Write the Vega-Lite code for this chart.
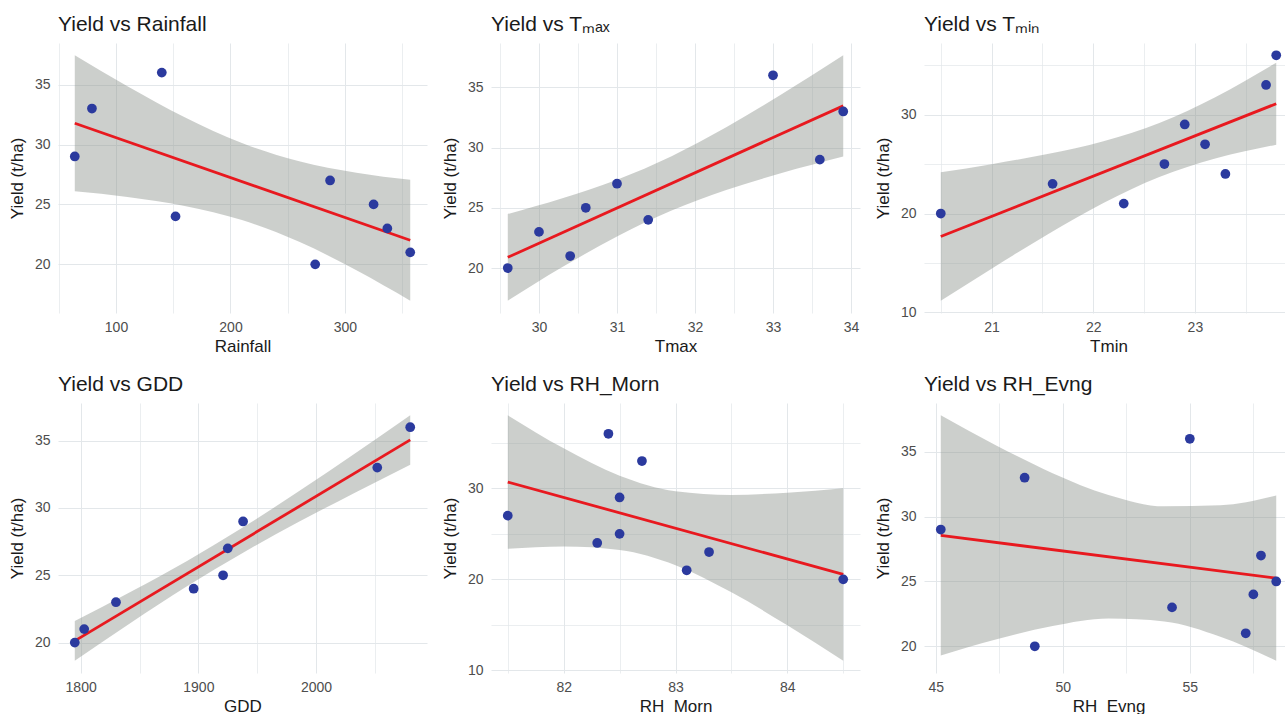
{
  "$schema": "https://vega.github.io/schema/vega-lite/v6.json",
  "padding": {"left": 8, "top": 14, "right": 0, "bottom": 0},
  "background": "white",
  "datasets": {
    "obs": [
      {"Yield": 20, "Rainfall": 274, "Tmax": 29.6, "Tmin": 20.5, "GDD": 1795, "RH_Morn": 84.5, "RH_Evng": 48.9},
      {"Yield": 21, "Rainfall": 357, "Tmax": 30.4, "Tmin": 22.3, "GDD": 1803, "RH_Morn": 83.1, "RH_Evng": 57.2},
      {"Yield": 23, "Rainfall": 337, "Tmax": 30.0, "Tmin": 21.6, "GDD": 1830, "RH_Morn": 83.3, "RH_Evng": 54.3},
      {"Yield": 24, "Rainfall": 152, "Tmax": 31.4, "Tmin": 23.3, "GDD": 1896, "RH_Morn": 82.3, "RH_Evng": 57.5},
      {"Yield": 25, "Rainfall": 325, "Tmax": 30.6, "Tmin": 22.7, "GDD": 1921, "RH_Morn": 82.5, "RH_Evng": 58.4},
      {"Yield": 27, "Rainfall": 287, "Tmax": 31.0, "Tmin": 23.1, "GDD": 1925, "RH_Morn": 81.5, "RH_Evng": 57.8},
      {"Yield": 29, "Rainfall": 64, "Tmax": 33.6, "Tmin": 22.9, "GDD": 1938, "RH_Morn": 82.5, "RH_Evng": 45.2},
      {"Yield": 33, "Rainfall": 79, "Tmax": 33.9, "Tmin": 23.7, "GDD": 2052, "RH_Morn": 82.7, "RH_Evng": 48.5},
      {"Yield": 36, "Rainfall": 140, "Tmax": 33.0, "Tmin": 23.8, "GDD": 2080, "RH_Morn": 82.4, "RH_Evng": 55.0}
    ],
    "band": [
      {"panel": "Rainfall", "x": 64, "lo": 26.09, "hi": 37.45},
      {"panel": "Rainfall", "x": 110, "lo": 25.62, "hi": 34.86},
      {"panel": "Rainfall", "x": 160, "lo": 24.87, "hi": 32.27},
      {"panel": "Rainfall", "x": 210, "lo": 23.69, "hi": 30.12},
      {"panel": "Rainfall", "x": 260, "lo": 21.88, "hi": 28.60},
      {"panel": "Rainfall", "x": 310, "lo": 19.50, "hi": 27.64},
      {"panel": "Rainfall", "x": 357, "lo": 16.96, "hi": 27.05},
      {"panel": "Tmax", "x": 29.6, "lo": 17.29, "hi": 24.49},
      {"panel": "Tmax", "x": 30.3, "lo": 20.08, "hi": 25.80},
      {"panel": "Tmax", "x": 31.0, "lo": 22.62, "hi": 27.34},
      {"panel": "Tmax", "x": 31.7, "lo": 24.77, "hi": 29.29},
      {"panel": "Tmax", "x": 32.4, "lo": 26.47, "hi": 31.68},
      {"panel": "Tmax", "x": 33.1, "lo": 27.86, "hi": 34.38},
      {"panel": "Tmax", "x": 33.9, "lo": 29.25, "hi": 37.66},
      {"panel": "Tmin", "x": 20.5, "lo": 11.18, "hi": 24.16},
      {"panel": "Tmin", "x": 21.0, "lo": 14.42, "hi": 24.99},
      {"panel": "Tmin", "x": 21.55, "lo": 17.87, "hi": 26.01},
      {"panel": "Tmin", "x": 22.1, "lo": 21.06, "hi": 27.30},
      {"panel": "Tmin", "x": 22.65, "lo": 23.69, "hi": 29.15},
      {"panel": "Tmin", "x": 23.2, "lo": 25.55, "hi": 31.76},
      {"panel": "Tmin", "x": 23.8, "lo": 26.95, "hi": 35.25},
      {"panel": "GDD", "x": 1795, "lo": 18.65, "hi": 21.61},
      {"panel": "GDD", "x": 1843, "lo": 21.49, "hi": 23.80},
      {"panel": "GDD", "x": 1890, "lo": 24.16, "hi": 26.05},
      {"panel": "GDD", "x": 1938, "lo": 26.68, "hi": 28.56},
      {"panel": "GDD", "x": 1985, "lo": 28.95, "hi": 31.22},
      {"panel": "GDD", "x": 2033, "lo": 31.14, "hi": 34.05},
      {"panel": "GDD", "x": 2080, "lo": 33.22, "hi": 36.89},
      {"panel": "RH_Morn", "x": 81.5, "lo": 23.36, "hi": 38.03},
      {"panel": "RH_Morn", "x": 82.0, "lo": 23.61, "hi": 34.40},
      {"panel": "RH_Morn", "x": 82.5, "lo": 23.23, "hi": 31.39},
      {"panel": "RH_Morn", "x": 83.0, "lo": 21.56, "hi": 29.68},
      {"panel": "RH_Morn", "x": 83.5, "lo": 18.57, "hi": 29.28},
      {"panel": "RH_Morn", "x": 84.0, "lo": 14.95, "hi": 29.52},
      {"panel": "RH_Morn", "x": 84.5, "lo": 11.06, "hi": 30.02},
      {"panel": "RH_Evng", "x": 45.2, "lo": 19.29, "hi": 37.81},
      {"panel": "RH_Evng", "x": 47.4, "lo": 20.54, "hi": 35.47},
      {"panel": "RH_Evng", "x": 49.6, "lo": 21.56, "hi": 33.35},
      {"panel": "RH_Evng", "x": 51.8, "lo": 22.14, "hi": 31.67},
      {"panel": "RH_Evng", "x": 54.0, "lo": 21.92, "hi": 30.79},
      {"panel": "RH_Evng", "x": 56.2, "lo": 20.74, "hi": 30.87},
      {"panel": "RH_Evng", "x": 58.4, "lo": 18.89, "hi": 31.62}
    ]
  },
  "vconcat": [
    {
      "hconcat": [
        {
          "title": "Yield vs Rainfall",
          "width": 369, "height": 270,
          "layer": [
            {"data": {"name": "band"}, "transform": [{"filter": "datum.panel === 'Rainfall'"}],
             "mark": {"type": "area", "color": "#8f948f", "opacity": 0.45, "interpolate": "monotone"},
             "encoding": {
               "x": {"field": "x", "type": "quantitative", "title": "Rainfall", "scale": {"domain": [49.35, 371.65], "nice": false, "zero": false},
                     "axis": {"values": [50, 100, 150, 200, 250, 300, 350], "format": ".0f", "labelExpr": "datum.value % 100 == 0 ? datum.label : ''", "gridWidth": {"condition": {"test": "datum.value % 100 == 0", "value": 1}, "value": 0.7}}},
               "y": {"field": "lo", "type": "quantitative", "title": "Yield (t/ha)", "scale": {"domain": [15.94, 38.47], "nice": false, "zero": false},
                     "axis": {"values": [20, 22.5, 25, 27.5, 30, 32.5, 35, 37.5], "format": ".0f", "labelExpr": "datum.value % 5 == 0 ? datum.label : ''", "gridWidth": {"condition": {"test": "datum.value % 5 == 0", "value": 1}, "value": 0.7}}},
               "y2": {"field": "hi"}
             }},
            {"data": {"name": "obs"}, "transform": [{"regression": "Yield", "on": "Rainfall"}],
             "mark": {"type": "line", "color": "#E8191F", "strokeWidth": 2.8},
             "encoding": {"x": {"field": "Rainfall", "type": "quantitative", "title": "Rainfall"}, "y": {"field": "Yield", "type": "quantitative", "title": "Yield (t/ha)"}}},
            {"data": {"name": "obs"},
             "mark": {"type": "circle", "color": "#2B3A9E", "opacity": 1, "size": 95},
             "encoding": {"x": {"field": "Rainfall", "type": "quantitative", "title": "Rainfall"}, "y": {"field": "Yield", "type": "quantitative", "title": "Yield (t/ha)"}}}
          ]
        },
        {
          "title": "Yield vs Tₘₐₓ",
          "width": 369, "height": 270,
          "layer": [
            {"data": {"name": "band"}, "transform": [{"filter": "datum.panel === 'Tmax'"}],
             "mark": {"type": "area", "color": "#8f948f", "opacity": 0.45, "interpolate": "monotone"},
             "encoding": {
               "x": {"field": "x", "type": "quantitative", "title": "Tmax", "scale": {"domain": [29.385, 34.115], "nice": false, "zero": false},
                     "axis": {"values": [29.5, 30, 30.5, 31, 31.5, 32, 32.5, 33, 33.5, 34], "format": ".0f", "labelExpr": "datum.value % 1 == 0 ? datum.label : ''", "gridWidth": {"condition": {"test": "datum.value % 1 == 0", "value": 1}, "value": 0.7}}},
               "y": {"field": "lo", "type": "quantitative", "title": "Yield (t/ha)", "scale": {"domain": [16.27, 38.68], "nice": false, "zero": false},
                     "axis": {"values": [20, 22.5, 25, 27.5, 30, 32.5, 35, 37.5], "format": ".0f", "labelExpr": "datum.value % 5 == 0 ? datum.label : ''", "gridWidth": {"condition": {"test": "datum.value % 5 == 0", "value": 1}, "value": 0.7}}},
               "y2": {"field": "hi"}
             }},
            {"data": {"name": "obs"}, "transform": [{"regression": "Yield", "on": "Tmax"}],
             "mark": {"type": "line", "color": "#E8191F", "strokeWidth": 2.8},
             "encoding": {"x": {"field": "Tmax", "type": "quantitative", "title": "Tmax"}, "y": {"field": "Yield", "type": "quantitative", "title": "Yield (t/ha)"}}},
            {"data": {"name": "obs"},
             "mark": {"type": "circle", "color": "#2B3A9E", "opacity": 1, "size": 95},
             "encoding": {"x": {"field": "Tmax", "type": "quantitative", "title": "Tmax"}, "y": {"field": "Yield", "type": "quantitative", "title": "Yield (t/ha)"}}}
          ]
        },
        {
          "title": "Yield vs Tₘᵢₙ",
          "width": 369, "height": 270,
          "layer": [
            {"data": {"name": "band"}, "transform": [{"filter": "datum.panel === 'Tmin'"}],
             "mark": {"type": "area", "color": "#8f948f", "opacity": 0.45, "interpolate": "monotone"},
             "encoding": {
               "x": {"field": "x", "type": "quantitative", "title": "Tmin", "scale": {"domain": [20.335, 23.965], "nice": false, "zero": false},
                     "axis": {"values": [20.5, 21, 21.5, 22, 22.5, 23, 23.5], "format": ".0f", "labelExpr": "datum.value % 1 == 0 ? datum.label : ''", "gridWidth": {"condition": {"test": "datum.value % 1 == 0", "value": 1}, "value": 0.7}}},
               "y": {"field": "lo", "type": "quantitative", "title": "Yield (t/ha)", "scale": {"domain": [9.94, 37.24], "nice": false, "zero": false},
                     "axis": {"values": [10, 15, 20, 25, 30, 35], "format": ".0f", "labelExpr": "datum.value % 10 == 0 ? datum.label : ''", "gridWidth": {"condition": {"test": "datum.value % 10 == 0", "value": 1}, "value": 0.7}}},
               "y2": {"field": "hi"}
             }},
            {"data": {"name": "obs"}, "transform": [{"regression": "Yield", "on": "Tmin"}],
             "mark": {"type": "line", "color": "#E8191F", "strokeWidth": 2.8},
             "encoding": {"x": {"field": "Tmin", "type": "quantitative", "title": "Tmin"}, "y": {"field": "Yield", "type": "quantitative", "title": "Yield (t/ha)"}}},
            {"data": {"name": "obs"},
             "mark": {"type": "circle", "color": "#2B3A9E", "opacity": 1, "size": 95},
             "encoding": {"x": {"field": "Tmin", "type": "quantitative", "title": "Tmin"}, "y": {"field": "Yield", "type": "quantitative", "title": "Yield (t/ha)"}}}
          ]
        }
      ]
    },
    {
      "hconcat": [
        {
          "title": "Yield vs GDD",
          "width": 369, "height": 270,
          "layer": [
            {"data": {"name": "band"}, "transform": [{"filter": "datum.panel === 'GDD'"}],
             "mark": {"type": "area", "color": "#8f948f", "opacity": 0.45, "interpolate": "monotone"},
             "encoding": {
               "x": {"field": "x", "type": "quantitative", "title": "GDD", "scale": {"domain": [1780.75, 2094.25], "nice": false, "zero": false},
                     "axis": {"values": [1800, 1850, 1900, 1950, 2000, 2050], "labelExpr": "datum.value % 100 == 0 ? datum.label : ''", "format": ".0f", "gridWidth": {"condition": {"test": "datum.value % 100 == 0", "value": 1}, "value": 0.7}}},
               "y": {"field": "lo", "type": "quantitative", "title": "Yield (t/ha)", "scale": {"domain": [17.74, 37.8], "nice": false, "zero": false},
                     "axis": {"values": [20, 22.5, 25, 27.5, 30, 32.5, 35, 37.5], "format": ".0f", "labelExpr": "datum.value % 5 == 0 ? datum.label : ''", "gridWidth": {"condition": {"test": "datum.value % 5 == 0", "value": 1}, "value": 0.7}}},
               "y2": {"field": "hi"}
             }},
            {"data": {"name": "obs"}, "transform": [{"regression": "Yield", "on": "GDD"}],
             "mark": {"type": "line", "color": "#E8191F", "strokeWidth": 2.8},
             "encoding": {"x": {"field": "GDD", "type": "quantitative", "title": "GDD"}, "y": {"field": "Yield", "type": "quantitative", "title": "Yield (t/ha)"}}},
            {"data": {"name": "obs"},
             "mark": {"type": "circle", "color": "#2B3A9E", "opacity": 1, "size": 95},
             "encoding": {"x": {"field": "GDD", "type": "quantitative", "title": "GDD"}, "y": {"field": "Yield", "type": "quantitative", "title": "Yield (t/ha)"}}}
          ]
        },
        {
          "title": "Yield vs RH_Morn",
          "width": 369, "height": 270,
          "layer": [
            {"data": {"name": "band"}, "transform": [{"filter": "datum.panel === 'RH_Morn'"}],
             "mark": {"type": "area", "color": "#8f948f", "opacity": 0.45, "interpolate": "monotone"},
             "encoding": {
               "x": {"field": "x", "type": "quantitative", "title": "RH_Morn", "scale": {"domain": [81.35, 84.65], "nice": false, "zero": false},
                     "axis": {"values": [81.5, 82, 82.5, 83, 83.5, 84, 84.5], "format": ".0f", "labelExpr": "datum.value % 1 == 0 ? datum.label : ''", "gridWidth": {"condition": {"test": "datum.value % 1 == 0", "value": 1}, "value": 0.7}}},
               "y": {"field": "lo", "type": "quantitative", "title": "Yield (t/ha)", "scale": {"domain": [9.71, 39.38], "nice": false, "zero": false},
                     "axis": {"values": [10, 15, 20, 25, 30, 35], "format": ".0f", "labelExpr": "datum.value % 10 == 0 ? datum.label : ''", "gridWidth": {"condition": {"test": "datum.value % 10 == 0", "value": 1}, "value": 0.7}}},
               "y2": {"field": "hi"}
             }},
            {"data": {"name": "obs"}, "transform": [{"regression": "Yield", "on": "RH_Morn"}],
             "mark": {"type": "line", "color": "#E8191F", "strokeWidth": 2.8},
             "encoding": {"x": {"field": "RH_Morn", "type": "quantitative", "title": "RH_Morn"}, "y": {"field": "Yield", "type": "quantitative", "title": "Yield (t/ha)"}}},
            {"data": {"name": "obs"},
             "mark": {"type": "circle", "color": "#2B3A9E", "opacity": 1, "size": 95},
             "encoding": {"x": {"field": "RH_Morn", "type": "quantitative", "title": "RH_Morn"}, "y": {"field": "Yield", "type": "quantitative", "title": "Yield (t/ha)"}}}
          ]
        },
        {
          "title": "Yield vs RH_Evng",
          "width": 369, "height": 270,
          "layer": [
            {"data": {"name": "band"}, "transform": [{"filter": "datum.panel === 'RH_Evng'"}],
             "mark": {"type": "area", "color": "#8f948f", "opacity": 0.45, "interpolate": "monotone"},
             "encoding": {
               "x": {"field": "x", "type": "quantitative", "title": "RH_Evng", "scale": {"domain": [44.54, 59.06], "nice": false, "zero": false},
                     "axis": {"values": [45, 47.5, 50, 52.5, 55, 57.5], "format": ".0f", "labelExpr": "datum.value % 5 == 0 ? datum.label : ''", "gridWidth": {"condition": {"test": "datum.value % 5 == 0", "value": 1}, "value": 0.7}}},
               "y": {"field": "lo", "type": "quantitative", "title": "Yield (t/ha)", "scale": {"domain": [17.94, 38.76], "nice": false, "zero": false},
                     "axis": {"values": [20, 22.5, 25, 27.5, 30, 32.5, 35, 37.5], "format": ".0f", "labelExpr": "datum.value % 5 == 0 ? datum.label : ''", "gridWidth": {"condition": {"test": "datum.value % 5 == 0", "value": 1}, "value": 0.7}}},
               "y2": {"field": "hi"}
             }},
            {"data": {"name": "obs"}, "transform": [{"regression": "Yield", "on": "RH_Evng"}],
             "mark": {"type": "line", "color": "#E8191F", "strokeWidth": 2.8},
             "encoding": {"x": {"field": "RH_Evng", "type": "quantitative", "title": "RH_Evng"}, "y": {"field": "Yield", "type": "quantitative", "title": "Yield (t/ha)"}}},
            {"data": {"name": "obs"},
             "mark": {"type": "circle", "color": "#2B3A9E", "opacity": 1, "size": 95},
             "encoding": {"x": {"field": "RH_Evng", "type": "quantitative", "title": "RH_Evng"}, "y": {"field": "Yield", "type": "quantitative", "title": "Yield (t/ha)"}}}
          ]
        }
      ]
    }
  ],
  "spacing": 20,
  "config": {
    "concat": {"spacing": 14},
    "view": {"stroke": null},
    "font": "Liberation Sans",
    "title": {"anchor": "start", "frame": "group", "fontSize": 21, "fontWeight": "normal", "color": "#1a1a1a", "font": "Liberation Sans", "offset": 8},
    "axis": {"domain": false, "ticks": false, "labelOverlap": false, "labelColor": "#4D4D4D", "labelFontSize": 14, "labelFont": "Liberation Sans", "titleFont": "Liberation Sans", "titleFontSize": 17, "titleFontWeight": "normal", "titleColor": "#1a1a1a", "gridColor": "#E3E7EA", "labelPadding": 8, "titlePadding": 8},
    "axisX": {"labelPadding": 7, "titlePadding": 4}
  }
}
